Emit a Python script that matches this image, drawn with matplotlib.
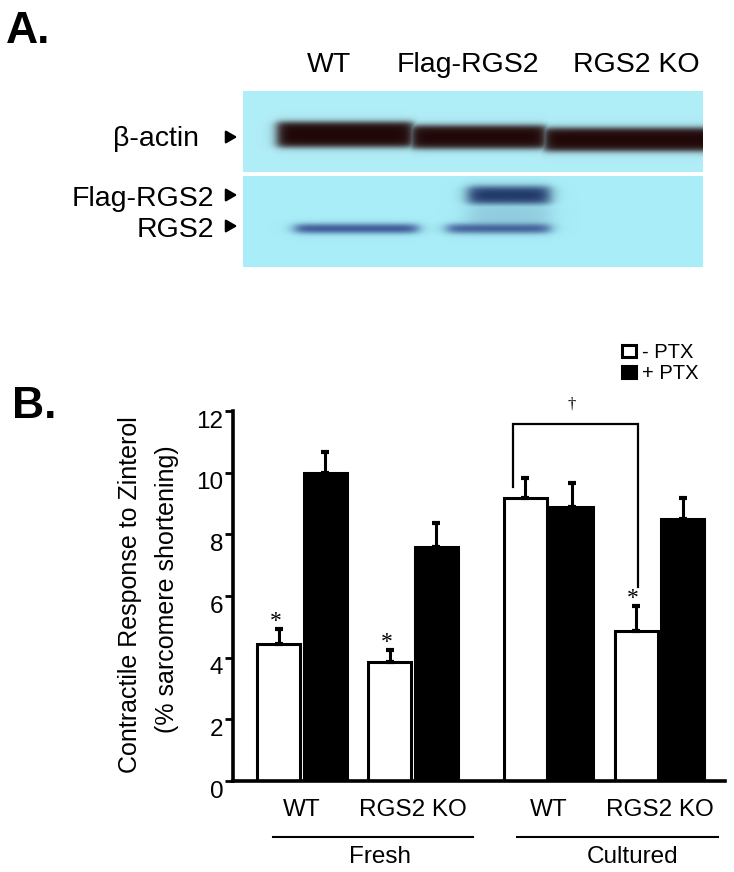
#!/usr/bin/env python
# RGS2 figure: western blot (A) and zinterol contractile response bars (B)

import numpy as np
import matplotlib
matplotlib.use('Agg')
import matplotlib.pyplot as plt
from matplotlib.transforms import ScaledTranslation

plt.rcParams['font.family'] = ['Liberation Sans', 'DejaVu Sans']

# ---- panel B data ----
genotypes = ['WT', 'RGS2 KO', 'WT', 'RGS2 KO']
conditions = ['Fresh', 'Cultured']
minus_ptx = [4.45, 3.87, 9.17, 4.86]
minus_err = [0.47, 0.37, 0.66, 0.81]
plus_ptx = [9.98, 7.59, 8.88, 8.51]
plus_err = [0.68, 0.79, 0.79, 0.67]
minus_sig = [True, True, False, True]     # '*' over the -PTX bars
bracket_levels = [9.54, 11.58, 6.30]      # left leg end, top, right leg end

# ---- panel A blot (lanes and band strengths) ----
lane_labels = ['WT', 'Flag-RGS2', 'RGS2 KO']
actin_band = [1.0, 1.0, 1.0]
flag_band = [0.0, 0.92, 0.0]
rgs2_band = [0.85, 0.80, 0.0]

W, H = 734, 872
fig = plt.figure(figsize=(W / 100, H / 100), dpi=100)

# overlay in pixel units for the blot and panel letters
ov = fig.add_axes([0, 0, 1, 1])
ov.set_xlim(0, W)
ov.set_ylim(H, 0)
ov.axis('off')


def sig(z):
    return 1.0 / (1.0 + np.exp(-z))


# lane x-ranges on the membrane (pixels)
lane_x = [(277, 414), (410, 547), (543, 730)]
xs = np.arange(243, 703) + 0.5

# upper membrane: beta-actin
yu = np.arange(91, 172) + 0.5
X, Y = np.meshgrid(xs, yu)
alpha = np.zeros_like(X)
actin_y = [(134.5, 12.5), (137.0, 11.5), (139.5, 11.5)]
for (x0, x1), (yc, hh), s in zip(lane_x, actin_y, actin_band):
    a = s * sig((X - x0) / 3.0) * sig((x1 - X) / 3.0) * sig((hh - np.abs(Y - yc)) / 1.8)
    alpha = np.maximum(alpha, a)
bg = np.array([0.69, 0.93, 0.97])
band = np.array([0.13, 0.03, 0.03])
img = bg[None, None, :] * (1 - alpha[..., None]) + band[None, None, :] * alpha[..., None]
ov.imshow(img, extent=(243, 703, 172, 91), aspect='auto', interpolation='bilinear')

# lower membrane: Flag-RGS2 and RGS2
yl = np.arange(177, 267) + 0.5
X, Y = np.meshgrid(xs, yl)
bg2 = np.array([0.66, 0.93, 0.97])
img2 = np.tile(bg2, (len(yl), len(xs), 1))
flag_x = [(300, 410), (468, 550), (560, 700)]
rgs_x = [(295, 418), (447, 550), (560, 700)]
flag_col = np.array([0.08, 0.15, 0.36])
rgs_col = np.array([0.15, 0.22, 0.50])
for (x0, x1), s in zip(flag_x, flag_band):
    a = s * sig((X - x0) / 4.0) * sig((x1 - X) / 4.0) * sig((8.5 - np.abs(Y - 196)) / 2.0)
    smear = 0.18 * s * sig((X - x0) / 6.0) * sig((x1 - X) / 6.0) * sig((12 - np.abs(Y - 215)) / 3.0)
    a = np.maximum(a, smear)
    img2 = img2 * (1 - a[..., None]) + flag_col * a[..., None]
for (x0, x1), s in zip(rgs_x, rgs2_band):
    a = s * sig((X - x0) / 4.0) * sig((x1 - X) / 4.0) * sig((4.2 - np.abs(Y - 229)) / 1.5)
    img2 = img2 * (1 - a[..., None]) + rgs_col * a[..., None]
ov.imshow(img2, extent=(243, 703, 267, 177), aspect='auto', interpolation='bilinear')

ov.set_xlim(0, W)
ov.set_ylim(H, 0)

ov.text(6, 43, 'A.', fontsize=32, fontweight='bold', va='baseline', ha='left')
ov.text(12, 418, 'B.', fontsize=32, fontweight='bold', va='baseline', ha='left')

for lab, xc in zip(lane_labels, [329, 468, 636]):
    ov.text(xc, 72, lab, fontsize=20.5, ha='center', va='baseline')

row_labels = [('\u03b2-actin', 199, 146, 137), ('Flag-RGS2', 214, 206, 195), ('RGS2', 214, 237, 226)]
for lab, xr, yb, ya in row_labels:
    ov.text(xr, yb, lab, fontsize=20.5, ha='right', va='baseline')
    ov.annotate('', xy=(240, ya), xytext=(225, ya),
                arrowprops=dict(arrowstyle='-|>,head_length=0.55,head_width=0.32',
                                color='black', lw=1.6, mutation_scale=12))

# ---- panel B ----
ax = fig.add_axes([233 / W, 1 - 781 / H, (725 - 233) / W, (781 - 411) / H])
ax.patch.set_alpha(0)
pos = np.array([0, 1, 2.22, 3.22])
off, w = 0.21, 0.385

b1 = ax.bar(pos - off, minus_ptx, w, color='white', edgecolor='black', linewidth=2.2,
            label='- PTX', zorder=2)
b2 = ax.bar(pos + off, plus_ptx, w, color='black', edgecolor='black', linewidth=2.2,
            label='+ PTX', zorder=2)
ax.errorbar(pos - off, minus_ptx, yerr=[np.zeros(4), minus_err], fmt='none', ecolor='black',
            elinewidth=2.2, capsize=3.2, capthick=3, zorder=3)
ax.errorbar(pos + off, plus_ptx, yerr=[np.zeros(4), plus_err], fmt='none', ecolor='black',
            elinewidth=2.2, capsize=3.2, capthick=3, zorder=3)

for x, v, e, s in zip(pos - off, minus_ptx, minus_err, minus_sig):
    if s:
        ax.text(x - 0.03, v + e + 0.07, '*', fontsize=17, ha='center', va='baseline',
                family='Liberation Serif')

# bracket between cultured WT and cultured KO (-PTX)
bx0, bx1 = 1.898, 3.03
ax.plot([bx0, bx0, bx1, bx1], [bracket_levels[0], bracket_levels[1], bracket_levels[1], bracket_levels[2]],
        color='black', lw=1.6, clip_on=False, solid_joinstyle='miter')
ax.text(2.43, 11.95, '\u2020', fontsize=12, ha='center', va='bottom', clip_on=False,
        family='Liberation Serif')

ax.set_xlim(-0.622, 3.81)
ax.set_ylim(0, 12)
for side in ['top', 'right']:
    ax.spines[side].set_visible(False)
for side in ['left', 'bottom']:
    ax.spines[side].set_linewidth(2.6)

ax.set_yticks(np.arange(0, 13, 2))
ax.tick_params(axis='y', direction='out', length=5.5, width=2, labelsize=17.5, pad=1.5)
shift = ScaledTranslation(0, -8 / 100, fig.dpi_scale_trans)
for lab in ax.get_yticklabels():
    lab.set_transform(lab.get_transform() + shift)

ax.set_xticks(pos, genotypes)
ax.tick_params(axis='x', length=0, labelsize=17.5, pad=13)

# condition lines and labels under the axis
ax.plot([-0.26, 1.54], [-1.82, -1.82], color='black', lw=1.5, clip_on=False)
ax.plot([1.94, 3.75], [-1.82, -1.82], color='black', lw=1.5, clip_on=False)
ax.text(0.70, -2.47, conditions[0], fontsize=17.5, ha='center', va='center', clip_on=False)
ax.text(2.98, -2.47, conditions[1], fontsize=17.5, ha='center', va='center', clip_on=False)

fig.text(130 / W, 1 - 595 / H, 'Contractile Response to Zinterol', rotation=90,
         fontsize=18, ha='center', va='center')
fig.text(167 / W, 1 - 589 / H, '(% sarcomere shortening)', rotation=90,
         fontsize=18, ha='center', va='center')

ax.legend(handles=[b1, b2], loc='upper left', bbox_to_anchor=(622 / W, 1 - 343 / H),
          bbox_transform=fig.transFigure, frameon=False, fontsize=14.5, handlelength=0.7,
          handleheight=0.55, handletextpad=0.3, labelspacing=0.1, borderpad=0, borderaxespad=0)

fig.savefig('out.png', dpi=100)
